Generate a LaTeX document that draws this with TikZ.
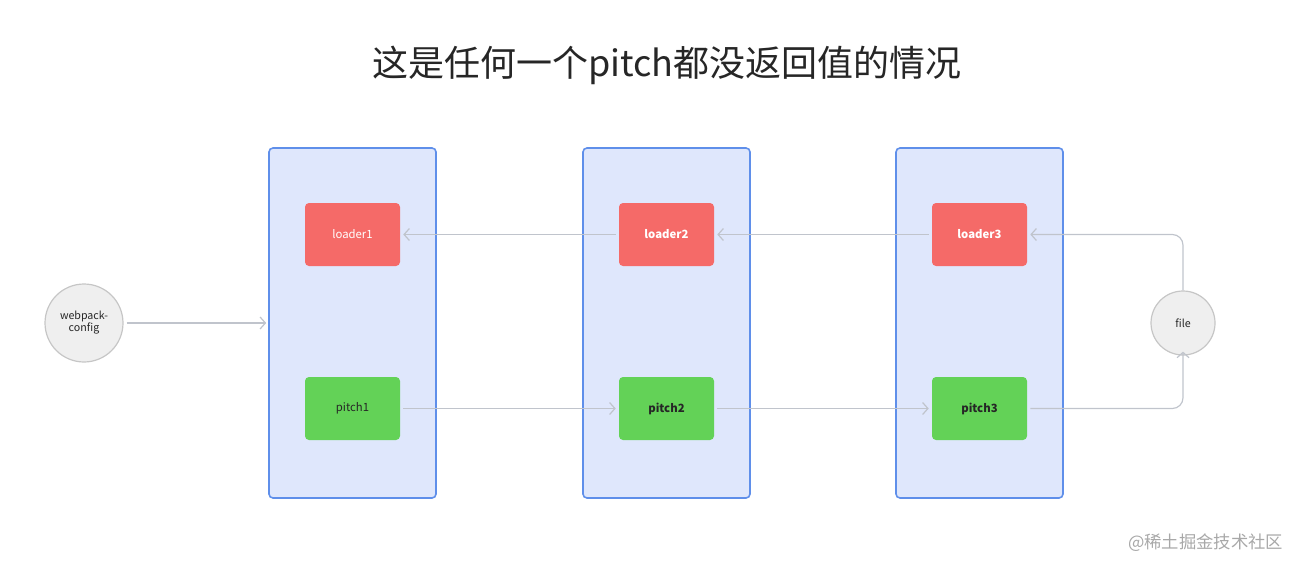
\documentclass[tikz,border=0pt]{standalone}
\usepackage{fontspec}
\setmainfont{Noto Sans CJK SC}
\usetikzlibrary{arrows.meta}
\definecolor{contfill}{HTML}{DFE7FC}
\definecolor{contdraw}{HTML}{5F8FEA}
\definecolor{loadred}{HTML}{F56A68}
\definecolor{pitchgreen}{HTML}{63D257}
\definecolor{circfill}{HTML}{EFEFEF}
\definecolor{circdraw}{HTML}{C6C6C6}
\definecolor{linegray}{HTML}{C0C4CC}
\definecolor{watergray}{HTML}{A8A8A8}
\tikzset{
  container/.style={draw=contdraw, fill=contfill, line width=1.2pt, rounded corners=3pt, minimum width=167*0.75pt, minimum height=350*0.75pt, inner sep=0pt},
  loaderbox/.style={fill=loadred, rounded corners=3pt, minimum width=95*0.75pt, minimum height=63*0.75pt, text=white, font=\fontsize{8.5pt}{10pt}\selectfont, inner sep=0pt},
  pitchbox/.style={fill=pitchgreen, rounded corners=3pt, minimum width=95*0.75pt, minimum height=63*0.75pt, text=black!85, font=\fontsize{8.5pt}{10pt}\selectfont, inner sep=0pt},
  boldtext/.style={font=\fontsize{8.5pt}{10pt}\selectfont\bfseries},
  circ/.style={circle, draw=circdraw, fill=circfill, line width=0.9pt, inner sep=0pt, align=center, font=\fontsize{8pt}{10pt}\selectfont, text=black!85},
  conn/.style={draw=linegray, line width=0.9pt, -{Straight Barb[length=4pt,width=9pt]}, rounded corners=8pt},
}
\begin{document}
\begin{tikzpicture}[x=0.75pt, y=-0.75pt]
\useasboundingbox (0,0) rectangle (1294,560);
\node[font=\fontsize{27pt}{32pt}\selectfont, text=black!85] (title) at (667,65) {这是任何一个pitch都没返回值的情况};
\node[container] (c1) at (352.5,323) {};
\node[container] (c2) at (666.5,323) {};
\node[container] (c3) at (979.5,323) {};
\node[loaderbox] (l1) at (352.5,234.5) {loader1};
\node[loaderbox, boldtext] (l2) at (666.5,234.5) {loader2};
\node[loaderbox, boldtext] (l3) at (979.5,234.5) {loader3};
\node[pitchbox] (p1) at (352.5,408.5) {pitch1};
\node[pitchbox, boldtext] (p2) at (666.5,408.5) {pitch2};
\node[pitchbox, boldtext] (p3) at (979.5,408.5) {pitch3};
\node[circ, minimum size=78*0.75pt] (wc) at (84,323) {webpack-\\[-1pt]config};
\node[circ, minimum size=64*0.75pt] (file) at (1183,323) {file};
\node[anchor=east, text=watergray, font=\fontsize{13pt}{15pt}\selectfont] (wm) at (1288,543) {@稀土掘金技术社区};
\draw[conn] ([xshift=3*0.75pt]wc.east) -- ([xshift=-2*0.75pt]c1.west);
\draw[conn] ([xshift=3*0.75pt]p1.east) -- ([xshift=-3*0.75pt]p2.west);
\draw[conn] ([xshift=3*0.75pt]p2.east) -- ([xshift=-3*0.75pt]p3.west);
\draw[conn] ([xshift=-3*0.75pt]l2.west) -- ([xshift=3*0.75pt]l1.east);
\draw[conn] ([xshift=-3*0.75pt]l3.west) -- ([xshift=3*0.75pt]l2.east);
\draw[conn] ([xshift=3*0.75pt]p3.east) -| ([yshift=4*0.75pt]file.south);
\draw[conn] (file.north) |- ([xshift=3*0.75pt]l3.east);
\end{tikzpicture}
\end{document}
